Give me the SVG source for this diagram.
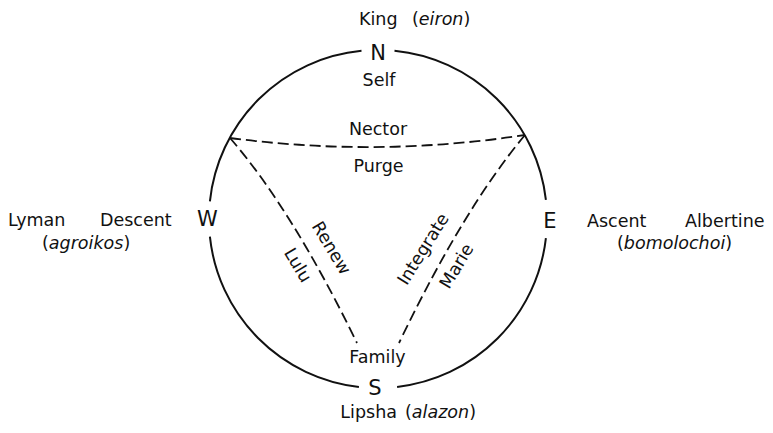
<svg xmlns="http://www.w3.org/2000/svg" width="773" height="433" viewBox="0 0 773 433">
<style>
  text { font-family: "DejaVu Sans", "Liberation Sans", sans-serif; font-size: 17.5px; fill: #111; }
  .pole { font-size: 21px; }
  .it { font-style: italic; }
  .ring { fill: none; stroke: #111; stroke-width: 2; }
  .dash { fill: none; stroke: #111; stroke-width: 1.8; stroke-dasharray: 11 5; }
  .rot { text-anchor: middle; dominant-baseline: central; }
</style>
<rect width="773" height="433" fill="#fff"/>
<g id="connectors">
  <path class="ring" d="M394.5,50.8 A169,169 0 0 1 545.9,199.9"/>
  <path class="ring" d="M545.9,238.1 A169,169 0 0 1 397.1,386.9"/>
  <path class="ring" d="M358.9,386.9 A169,169 0 0 1 209.9,236.7"/>
  <path class="ring" d="M209.9,201.3 A169,169 0 0 1 361.5,50.8"/>
  <path class="dash" d="M230,138 Q377.5,157.5 525,135"/>
  <path class="dash" d="M230,138 Q291.7,209 357,343"/>
  <path class="dash" d="M525,135 Q463.3,209 399,343"/>
</g>
<g id="node-N">
  <text x="359" y="25">King</text>
  <text x="412" y="25">(<tspan class="it">eiron</tspan>)</text>
  <text class="pole" x="378" y="60" text-anchor="middle" font-size="22">N</text>
  <text x="379" y="86" text-anchor="middle">Self</text>
</g>
<g id="node-W">
  <text class="pole" x="207.5" y="226" text-anchor="middle" font-size="19">W</text>
  <text x="8" y="226">Lyman</text>
  <text x="100" y="226">Descent</text>
  <text x="42" y="249">(<tspan class="it">agroikos</tspan>)</text>
</g>
<g id="node-E">
  <text class="pole" x="550" y="228" text-anchor="middle" font-size="19">E</text>
  <text x="587" y="227">Ascent</text>
  <text x="685" y="227">Albertine</text>
  <text x="617" y="249">(<tspan class="it">bomolochoi</tspan>)</text>
</g>
<g id="node-S">
  <text class="pole" x="375" y="395" text-anchor="middle">S</text>
  <text x="377.5" y="363" text-anchor="middle">Family</text>
  <text x="397" y="418" text-anchor="end">Lipsha</text>
  <text x="405" y="418">(<tspan class="it">alazon</tspan>)</text>
</g>
<g id="edge-labels">
  <text x="378" y="135" text-anchor="middle">Nector</text>
  <text x="378.5" y="172" text-anchor="middle">Purge</text>
  <text class="rot" transform="translate(331.5,248) rotate(59)">Renew</text>
  <text class="rot" transform="translate(298,265) rotate(59)">Lulu</text>
  <text class="rot" transform="translate(423,249) rotate(-58)">Integrate</text>
  <text class="rot" transform="translate(456.5,266) rotate(-59)">Marie</text>
</g>
</svg>
